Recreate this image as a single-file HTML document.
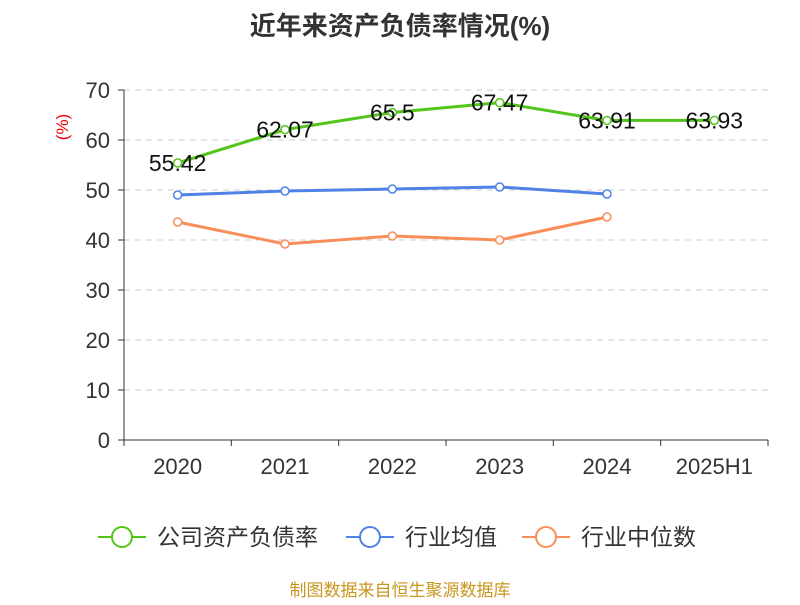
<!DOCTYPE html>
<html><head><meta charset="utf-8">
<style>
body{margin:0;background:#fff;}
svg text{font-family:"Liberation Sans","Noto Sans CJK SC",sans-serif;}
</style></head>
<body>
<svg id="chart" width="800" height="600" viewBox="0 0 800 600">
<text x="400" y="35" text-anchor="middle" font-size="26" font-weight="bold" fill="#333">近年来资产负债率情况(%)</text>
<text transform="translate(68,127) rotate(-90)" text-anchor="middle" font-size="17" fill="#e00">(%)</text>
<g id="grid"></g><g id="axes"></g><g id="series"></g>
<g>
<g><line x1="98" y1="537" x2="146" y2="537" stroke="#52c41a" stroke-width="2"/><circle cx="122" cy="537" r="10" fill="#fff" stroke="#52c41a" stroke-width="2"/><text x="157" y="545" font-size="23" fill="#333">公司资产负债率</text></g>
<g><line x1="346" y1="537" x2="394" y2="537" stroke="#4e82e6" stroke-width="2"/><circle cx="370" cy="537" r="10" fill="#fff" stroke="#4e82e6" stroke-width="2"/><text x="405" y="545" font-size="23" fill="#333">行业均值</text></g>
<g><line x1="522" y1="537" x2="570" y2="537" stroke="#f98e5a" stroke-width="2"/><circle cx="546" cy="537" r="10" fill="#fff" stroke="#f98e5a" stroke-width="2"/><text x="581" y="545" font-size="23" fill="#333">行业中位数</text></g>
</g>
<text x="400" y="596" text-anchor="middle" font-size="17" fill="#c8961e">制图数据来自恒生聚源数据库</text>
</svg>
<script>
const categories=["2020","2021","2022","2023","2024","2025H1"];
const companyValues=[55.42,62.07,65.5,67.47,63.91,63.93];
const companyLabels=["55.42","62.07","65.5","67.47","63.91","63.93"];
const industryAvg=[49.0,49.8,50.2,50.6,49.2];
const industryMedian=[43.6,39.2,40.8,40.0,44.6];
const yTicks=[0,10,20,30,40,50,60,70];
const NS="http://www.w3.org/2000/svg";
const x0=124,x1=768,yb=440,yt=90,yMax=70;
const step=(x1-x0)/categories.length;
const xs=i=>x0+step*(i+0.5);
const ys=v=>yb-(v/yMax)*(yb-yt);
function mk(tag,attrs,parent,txt){const e=document.createElementNS(NS,tag);for(const k in attrs)e.setAttribute(k,attrs[k]);if(txt!==undefined)e.textContent=txt;parent.appendChild(e);return e;}
const grid=document.getElementById('grid'),axes=document.getElementById('axes'),ser=document.getElementById('series');
yTicks.forEach(t=>{
  if(t>0){const l=mk('line',{x1:x0,x2:x1,y1:ys(t),y2:ys(t),stroke:'#ccc','stroke-dasharray':'6,5'},grid);
  
  }
  mk('line',{x1:x0-6,x2:x0,y1:ys(t),y2:ys(t),stroke:'#333'},axes);
  const tx=mk('text',{x:x0-14,y:ys(t)+8,'text-anchor':'end','font-size':22,fill:'#333'},axes,t);
  
  
});
const ya=mk('line',{x1:x0,x2:x0,y1:yt,y2:yb,stroke:'#333'},axes);


const xa=mk('line',{x1:x0,x2:x1,y1:yb,y2:yb,stroke:'#333'},axes);


for(let i=0;i<=categories.length;i++)mk('line',{x1:x0+step*i,x2:x0+step*i,y1:yb,y2:yb+6,stroke:'#333'},axes);
categories.forEach((c,i)=>{const t=mk('text',{x:xs(i),y:474,'text-anchor':'middle','font-size':22,fill:'#333'},axes,c);

});
function series(vals,color,name,labels){
  const g=mk('g',{},ser);
  
  
  mk('polyline',{points:vals.map((v,i)=>xs(i)+','+ys(v)).join(' '),fill:'none',stroke:color,'stroke-width':3},g);
  vals.forEach((v,i)=>{const c=mk('circle',{cx:xs(i),cy:ys(v),r:4,fill:'#fff',stroke:color,'stroke-width':1.5},g);
  
  
  if(labels){const t=mk('text',{x:xs(i),y:ys(v)+8,'text-anchor':'middle','font-size':23,fill:'#111'},g,labels[i]);
  
  }});
}
series(industryMedian,'#f98e5a','industry-median-line');
series(industryAvg,'#4e82e6','industry-avg-line');
series(companyValues,'#52c41a','company-debt-ratio-line',companyLabels);
</script>
</body></html>
